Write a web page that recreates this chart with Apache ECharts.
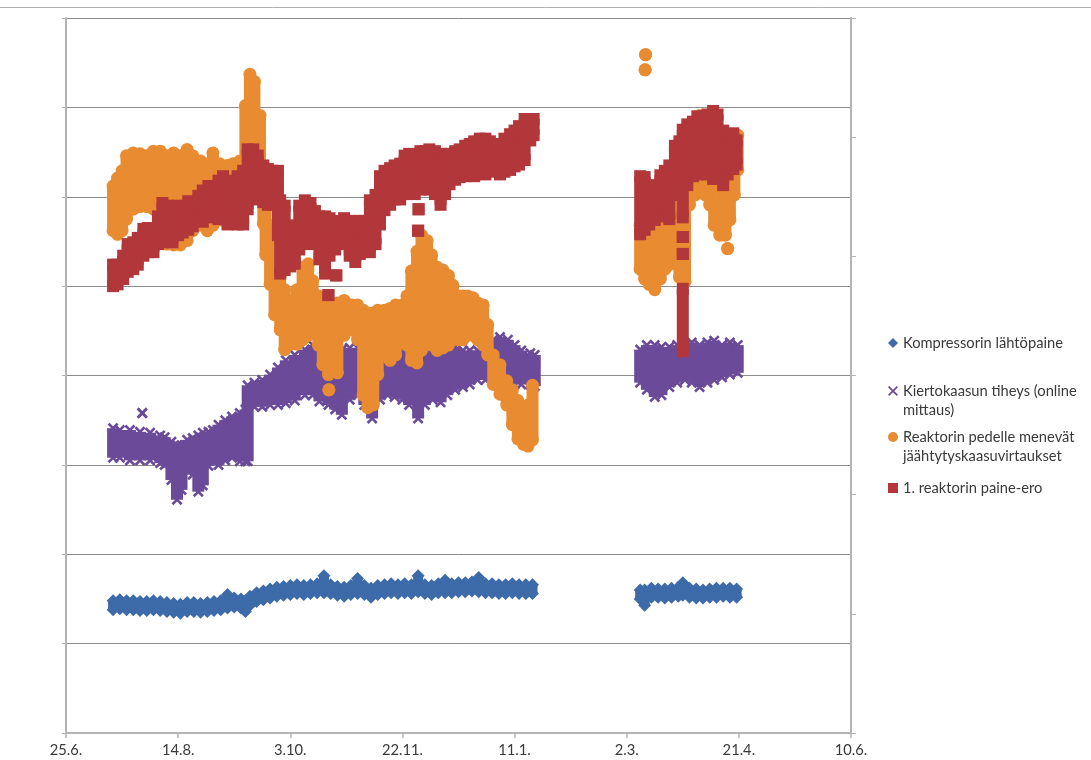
<!DOCTYPE html>
<html><head><meta charset="utf-8">
<script src="https://cdn.jsdelivr.net/npm/echarts@6/dist/echarts.min.js"></script>
<style>html,body{margin:0;padding:0;background:#fff}#c{width:1091px;height:760px}</style>
</head><body><div id="c"></div>
<script>
// x = days after 25.6., y = arbitrary units (axis labels are hidden in the original)
const xTickLabels = ['25.6.','14.8.','3.10.','22.11.','11.1.','2.3.','21.4.','10.6.'];
const seriesNames = ['Kompressorin lähtöpaine','Kiertokaasun tiheys (online mittaus)','Reaktorin pedelle menevät jäähtytyskaasuvirtaukset','1. reaktorin paine-ero'];
const legendFirstLines = ['Kompressorin lähtöpaine','Kiertokaasun tiheys (online','Reaktorin pedelle menevät','1. reaktorin paine-ero'];
const legendSecondLines = ['', 'mittaus)', 'jäähtytyskaasuvirtaukset', ''];

// each row: [day, lowest value, highest value] read at that date
const kompressorinPaine = [[21,1.38,1.48],[24,1.39,1.49],[27,1.38,1.48],[30,1.38,1.48],[33,1.37,1.47],[36,1.37,1.47],[39,1.38,1.48],[42,1.37,1.47],[45,1.36,1.46],[48,1.35,1.45],[51,1.34,1.44],[54,1.36,1.46],[57,1.36,1.46],[60,1.35,1.45],[63,1.36,1.46],[66,1.37,1.47],[69,1.38,1.48],[72,1.40,1.55],[75,1.41,1.51],[78,1.40,1.50],[80,1.36,1.48],[82,1.43,1.53],[85,1.47,1.57],[88,1.49,1.59],[91,1.51,1.61],[94,1.53,1.63],[97,1.54,1.64],[100,1.55,1.65],[103,1.56,1.66],[106,1.55,1.65],[109,1.56,1.66],[112,1.57,1.67],[115,1.57,1.76],[118,1.56,1.66],[121,1.54,1.64],[124,1.53,1.63],[127,1.55,1.65],[130,1.56,1.73],[133,1.55,1.65],[136,1.52,1.62],[139,1.55,1.65],[142,1.56,1.66],[145,1.57,1.67],[148,1.56,1.66],[151,1.57,1.67],[154,1.56,1.66],[157,1.58,1.76],[160,1.56,1.66],[163,1.55,1.65],[166,1.57,1.67],[169,1.57,1.71],[172,1.57,1.67],[175,1.58,1.68],[178,1.58,1.68],[181,1.59,1.69],[184,1.58,1.74],[187,1.57,1.67],[190,1.57,1.67],[193,1.56,1.66],[196,1.56,1.66],[199,1.57,1.67],[202,1.56,1.66],[205,1.56,1.66],[208,1.56,1.66],
  [256,1.50,1.60],[258,1.43,1.60],[261,1.52,1.62],[264,1.52,1.61],[267,1.51,1.61],[270,1.52,1.62],[273,1.53,1.63],[275,1.54,1.68],[278,1.52,1.62],[281,1.51,1.61],[284,1.51,1.60],[287,1.52,1.61],[290,1.52,1.62],[293,1.53,1.62],[296,1.52,1.62],[299,1.52,1.61]];

const kiertokaasunTiheys = [[21,3.08,3.41],[24,3.08,3.39],[28.5,3.05,3.39],[33,3.05,3.37],[34,3.58,3.58],[37.5,3.05,3.36],[42,3.02,3.33],[44,3.00,3.31],[47,2.83,3.26],[49.5,2.61,3.22],[51.5,2.72,3.22],[54,2.94,3.28],[56.5,2.89,3.30],[59,2.70,3.33],[61,2.77,3.36],[63.5,2.99,3.37],[65.5,3.05,3.39],[68,3.00,3.45],[71,3.05,3.50],[74,3.08,3.54],[77.5,3.04,3.58],[80,3.04,3.62],[81,3.04,3.89],[84,3.65,3.92],[87.5,3.65,3.95],[91,3.67,4.01],[94.5,3.67,4.09],[98,3.69,4.17],[102,3.72,4.23],[106.5,3.78,4.29],[110,3.78,4.34],[113,3.71,4.37],[117,3.67,4.34],[120,3.62,4.29],[123,3.56,4.29],[126.5,3.73,4.31],[130,3.78,4.31],[133,3.67,4.34],[136.5,3.52,4.34],[140,3.73,4.32],[143.5,3.78,4.34],[146.5,3.76,4.37],[150,3.73,4.38],[153,3.67,4.39],[157,3.52,4.39],[160,3.67,4.40],[163.5,3.73,4.39],[167,3.70,4.37],[170,3.78,4.34],[173.5,3.84,4.32],[177,3.87,4.28],[180,3.90,4.28],[183.5,3.95,4.28],[187,3.95,4.32],[190.5,3.95,4.40],[193.5,3.98,4.43],[197,3.95,4.40],[200,3.90,4.34],[203,3.90,4.28],[207,3.90,4.25],[209,3.88,4.23],
  [256,3.92,4.29],[259,3.84,4.34],[262.5,3.76,4.34],[265.5,3.78,4.32],[269,3.87,4.32],[272.5,3.92,4.34],[276,3.95,4.34],[279,3.92,4.37],[282.5,3.87,4.34],[286,3.92,4.37],[289,3.95,4.39],[292.5,3.98,4.34],[296,4.01,4.37],[299.5,4.03,4.34]];

const pedelleVirtaukset = [[21,5.62,6.12],[23,5.58,6.21],[25,5.62,6.29],[27,5.75,6.46],[30,5.86,6.49],[33,5.89,6.48],[36,5.89,6.46],[39,5.86,6.51],[42,5.80,6.51],[45,5.47,6.46],[48,5.46,6.49],[51,5.46,6.46],[54,5.51,6.53],[56.5,5.62,6.46],[60,5.68,6.40],[63,5.62,6.37],[65.5,5.68,6.49],[68.5,5.74,6.37],[72,5.74,6.35],[74.5,5.78,6.37],[77.5,5.85,6.40],[80,5.96,7.02],[82,5.96,7.37],[84,6.02,7.29],[86.5,6.07,6.91],[88,5.70,6.10],[89,5.35,5.90],[91,5.02,5.68],[93,4.68,5.35],[95.5,4.51,5.12],[97.5,4.29,4.96],[100,4.35,4.84],[103,4.35,4.96],[105.5,4.40,5.21],[108,4.45,5.25],[110,4.57,5.06],[112.5,4.34,4.89],[114.5,4.12,4.84],[117,4.01,4.81],[117.2,3.84,3.84],[119,4.06,4.79],[121,4.03,4.81],[124,4.45,4.84],[127.5,4.51,4.79],[130,4.40,4.79],[132.5,3.78,4.73],[134.5,3.64,4.70],[137,3.67,4.70],[139,4.01,4.73],[142,4.23,4.73],[144.5,4.17,4.75],[147,4.23,4.79],[150,4.45,4.79],[152,4.34,4.89],[154,4.17,5.17],[156.5,4.14,5.39],[158.5,4.28,5.57],[161,4.45,5.51],[163,4.34,5.35],[165.5,4.28,5.21],[168,4.31,5.18],[170.5,4.34,5.12],[172.5,4.40,5.01],[175,4.40,4.89],[177,4.40,4.89],[179,4.45,4.89],[181.5,4.45,4.87],[183.5,4.40,4.81],[186,4.34,4.79],[188,4.23,4.57],[190.5,3.90,4.23],[193.5,3.79,4.12],[196.5,3.67,3.94],[199,3.45,3.84],[201.5,3.29,3.72],[204,3.23,3.60],[206,3.21,3.67],[208,3.28,3.89],
  [256,5.19,5.68],[258,5.08,5.74],[258.2,7.42,7.42],[258.4,7.59,7.59],[260,5.02,5.63],[262.5,4.96,5.51],[265,5.08,5.80],[267,5.19,5.96],[269,5.24,6.02],[271.5,5.35,6.07],[273.5,5.10,6.13],[276,5.05,6.19],[278,5.91,6.52],[280.5,6.02,6.75],[282.5,6.07,6.91],[285,6.02,6.86],[287,5.91,6.75],[289,5.68,6.58],[291.5,5.57,6.47],[294,5.57,6.41],[295,5.42,5.42],[296,5.74,6.52],[298,6.02,6.63],[299.5,6.30,6.69]];

const paineEro = [[21,5.00,5.24],[23,5.02,5.24],[25.5,5.08,5.34],[27.5,5.16,5.47],[30,5.19,5.49],[32,5.24,5.54],[34.5,5.34,5.64],[36.5,5.38,5.65],[39,5.38,5.62],[41,5.47,5.78],[43,5.49,5.93],[45.5,5.52,5.90],[47.5,5.49,5.84],[50,5.57,5.90],[52,5.60,5.86],[54.5,5.63,5.95],[56.5,5.67,5.90],[59,5.75,6.01],[61,5.72,6.07],[63.5,5.77,6.12],[65.5,5.78,6.07],[68,5.75,6.18],[70,5.78,6.23],[72,5.69,6.18],[74.5,5.78,6.14],[76.5,5.69,6.23],[79,5.69,6.29],[81,5.86,6.53],[83.5,6.03,6.53],[85.5,5.97,6.46],[88,5.94,6.35],[90,5.91,6.31],[92,5.91,6.29],[94.5,5.57,6.29],[95.5,5.14,5.96],[97.5,5.18,5.90],[100,5.22,5.68],[102,5.25,5.64],[104,5.41,5.90],[106.5,5.52,5.96],[109,5.47,5.93],[111,5.52,5.84],[113,5.30,5.78],[115.5,5.14,5.78],[117,4.90,4.90],[117.5,5.34,5.76],[120,5.41,5.73],[120.5,5.12,5.12],[122,5.52,5.69],[124,5.47,5.76],[126.5,5.34,5.73],[129,5.27,5.67],[131,5.36,5.73],[133,5.47,5.73],[135.5,5.38,5.96],[138,5.47,6.02],[140,5.69,6.23],[142,5.85,6.29],[144.5,5.91,6.32],[146.5,5.97,6.35],[149,5.97,6.37],[151,6.03,6.46],[153,6.05,6.48],[155.5,6.03,6.46],[157,5.62,5.62],[157.2,5.86,5.86],[158,6.08,6.51],[160,6.13,6.51],[162,6.08,6.53],[164.5,6.03,6.51],[167,5.91,6.48],[169,6.03,6.46],[171,6.14,6.48],[173.5,6.19,6.51],[175.5,6.22,6.53],[178,6.23,6.57],[180,6.25,6.59],[182,6.23,6.62],[184.5,6.28,6.65],[187,6.25,6.65],[189,6.28,6.62],[191,6.31,6.59],[193.5,6.25,6.59],[195.5,6.28,6.65],[198,6.30,6.70],[200,6.34,6.74],[202,6.36,6.79],[204.5,6.41,6.87],[207,6.63,6.87],[208.5,6.69,6.87],
  [256,5.58,6.23],[258,5.63,6.22],[260,5.69,6.13],[262.5,5.74,6.07],[265,5.80,6.24],[267,5.78,6.29],[269,5.75,6.35],[271.5,6.02,6.57],[273.5,6.02,6.62],[275,5.77,6.75],[275,5.55,5.55],[275,5.36,5.36],[275,4.27,4.97],[277,6.13,6.81],[279.5,6.23,6.84],[281.5,6.25,6.90],[284,6.31,6.90],[286,6.25,6.92],[288.5,6.20,6.96],[290.5,6.20,6.92],[293,6.13,6.74],[295,6.25,6.69],[297.5,6.31,6.71],[299,6.36,6.63]];

const xPath = 'path://M0,1.7L1.7,0L5,3.3L8.3,0L10,1.7L6.7,5L10,8.3L8.3,10L5,6.7L1.7,10L0,8.3L3.3,5Z';
const xIconPath = 'path://M0,1.2L1.2,0L5,3.8L8.8,0L10,1.2L6.2,5L10,8.8L8.8,10L5,6.2L1.2,10L0,8.8L3.8,5Z';
const looks = [
  {data: kompressorinPaine, color:'#3d6aa8', symbol:'diamond', size:13, band:10, icon:'diamond'},
  {data: kiertokaasunTiheys, color:'#6b4b99', symbol:xPath, size:11, band:12, icon:xIconPath},
  {data: pedelleVirtaukset, color:'#e88b31', symbol:'circle', size:13, band:12, icon:'circle'},
  {data: paineEro, color:'#b2373a', symbol:'rect', size:12, band:12, icon:'rect'}
];

const series = [];
looks.forEach((s, i) => {
  const w = s.band, col = s.color;
  series.push({
    type:'custom', name: seriesNames[i], data: s.data, z: 2 + i*2, silent:true,
    itemStyle:{color: col},
    encode:{x:0, y:[1,2]},
    renderItem: function(params, api){
      const a = api.coord([api.value(0), api.value(1)]);
      const b = api.coord([api.value(0), api.value(2)]);
      return {type:'rect', shape:{x:a[0]-w/2, y:b[1], width:w, height:Math.max(0, a[1]-b[1])}, style:{fill: col}};
    }
  });
  series.push({
    type:'scatter', name: seriesNames[i], z: 3 + i*2, silent:true,
    data: s.data.flatMap(r => [[r[0], r[1]], [r[0], r[2]]]),
    symbol: s.symbol, symbolSize: s.size,
    itemStyle:{color: col, opacity:1}
  });
});

const FONT = 'Lato';
const legendCenters = [343, 391, 437, 488];
const legends = looks.map((s, i) => ({
  data:[{name: seriesNames[i], icon: s.icon}],
  left: 888, top: legendCenters[i] - 9.5, orient:'vertical', padding:0, itemGap:0,
  itemWidth:10, itemHeight:10, selectedMode:false,
  formatter: () => legendFirstLines[i],
  textStyle:{fontFamily:FONT, fontSize:14.7, color:'#3a3a3a', lineHeight:19}
}));
const secondLineGraphics = legendSecondLines.map((t, i) => ({
  type:'text', silent:true,
  style:{text:t, x:903, y:legendCenters[i] + 19, font:'14.7px ' + FONT, fill:'#3a3a3a', textVerticalAlign:'middle'}
})).filter(g => g.style.text);

const chart = echarts.init(document.getElementById('c'), null, {renderer:'canvas'});
chart.setOption({
  animation:false,
  backgroundColor:'#fff',
  grid:{left:66, right:240, top:18, bottom:27},
  legend: legends,
  xAxis:{type:'value', min:0, max:350, interval:50,
    axisLine:{show:true, lineStyle:{color:'#b4b4b4', width:2}},
    axisTick:{show:true, length:5, lineStyle:{color:'#b4b4b4', width:1.5}},
    axisLabel:{margin:10, fontFamily:FONT, fontSize:14.7, color:'#3a3a3a', formatter: v => xTickLabels[Math.round(v/50)]},
    splitLine:{show:false}},
  yAxis:[
    {type:'value', min:0, max:8, interval:1, position:'left',
      axisLine:{show:true, lineStyle:{color:'#b4b4b4', width:2}},
      axisTick:{show:true, length:4, lineStyle:{color:'#b4b4b4'}},
      axisLabel:{show:false},
      splitLine:{show:true, lineStyle:{color:'#8c8c8c', width:1}}},
    {type:'value', min:0, max:6, interval:1, position:'right',
      axisLine:{show:true, lineStyle:{color:'#b4b4b4', width:2}},
      axisTick:{show:true, length:5, lineStyle:{color:'#b4b4b4'}},
      axisLabel:{show:false},
      splitLine:{show:false}}
  ],
  graphic:[{type:'line', shape:{x1:0, y1:7.5, x2:1091, y2:7.5}, style:{stroke:'#b0b0b0', lineWidth:1}, silent:true}].concat(secondLineGraphics),
  series: series
});
</script>
</body></html>
